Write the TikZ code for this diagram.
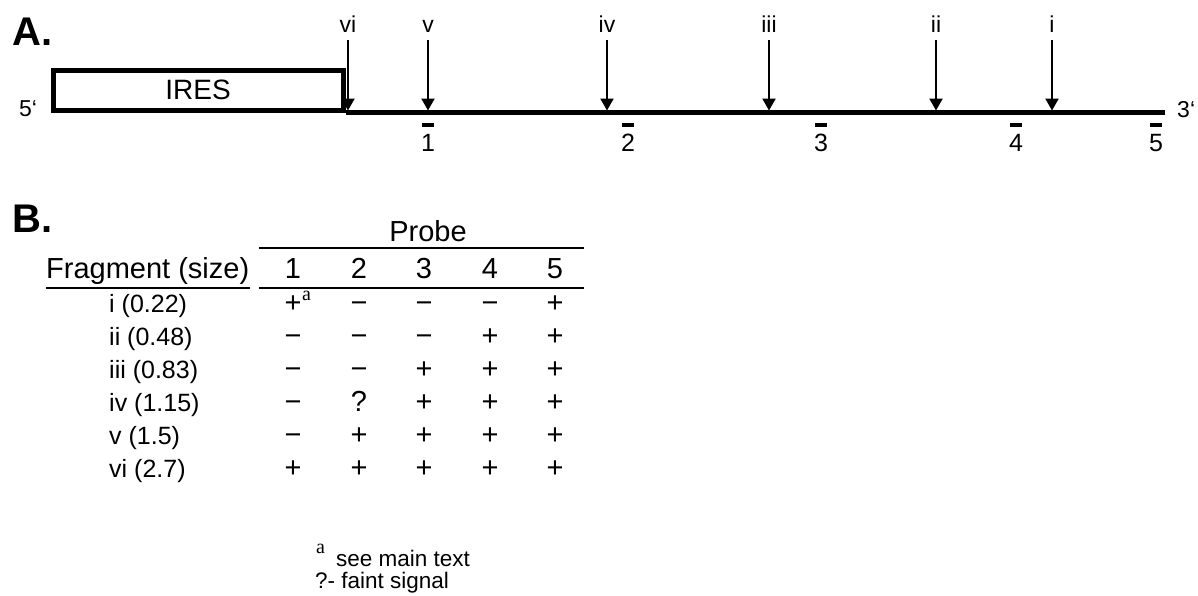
\documentclass[tikz,border=0pt]{standalone}
\usepackage{fontspec}
\setmainfont{Liberation Sans}
\newfontfamily\serifnote{Liberation Serif}
\usetikzlibrary{arrows.meta}
\tikzset{
  px/.style={x=1pt,y=-1pt},
  sz/.style={font=\fontsize{#1}{#1}\selectfont},
  panel/.style={inner sep=0pt, anchor=base west, font=\fontsize{40}{40}\selectfont\bfseries},
  endlab/.style={inner sep=0pt, anchor=base, sz=23},
  cutlab/.style={inner sep=0pt, anchor=base, sz=23},
  cutarrow/.style={line width=2.2pt, -{Triangle[width=13pt,length=12pt]}},
  probebar/.style={fill=black, minimum width=12pt, minimum height=4pt, inner sep=0pt},
  probenum/.style={inner sep=0pt, anchor=base, sz=25},
  rna/.style={line width=4.5pt},
  rule/.style={line width=2.5pt},
  head/.style={inner sep=0pt, anchor=base, sz=29},
  rowlab/.style={inner sep=0pt, anchor=base west, sz=25},
  cell/.style={inner sep=0pt, anchor=base, sz=29},
  sup/.style={inner sep=0pt, anchor=base west, font=\serifnote\fontsize{20}{20}\selectfont},
  note/.style={inner sep=0pt, anchor=base west, sz=22.5},
}
\begin{document}
\begin{tikzpicture}[px]
\useasboundingbox (0,0) rectangle (1198,595);

% ---------------- Panel A: map of the transcript ----------------
\node[panel] (A) at (12,45) {A.};
\node[draw, line width=5pt, minimum width=290pt, minimum height=40pt,
      inner sep=0pt, anchor=south west, sz=28] (ires) at (50.5,112.5) {IRES};
\node[endlab, anchor=base] (five) at (28,116) {5‘};
\coordinate (rnaend) at (1165,112.5);
\draw[rna] (ires.south east) -- (rnaend);
\node[endlab, anchor=base west] (three) at (1177,117) {3‘};

% cleavage sites
\foreach \lab/\x in {vi/348, v/428, iv/607, iii/769, ii/936, i/1052} {
  \node[cutlab] (lab-\lab) at (\x,32) {\lab};
  \coordinate (top-\lab) at (\x,40);
  \coordinate (tip-\lab) at (\x,110.5);
  \draw[cutarrow] (top-\lab) -- (tip-\lab);
}

% probe positions
\foreach \n/\x in {1/428, 2/628, 3/821, 4/1016, 5/1156} {
  \node[probebar] (bar-\n) at (\x,125) {};
  \node[probenum] (pnum-\n) at (\x,151) {\n};
}

% ---------------- Panel B: hybridisation table ----------------
\node[panel] (B) at (12,232) {B.};
\node[head] (probe) at (428,241) {Probe};
\coordinate (r1l) at (259,248);
\coordinate (r1r) at (584,248);
\draw[rule] (r1l) -- (r1r);

\node[head, anchor=base west] (frag) at (46,278) {Fragment (size)};
\foreach \n/\x in {1/293, 2/359, 3/424, 4/490, 5/555} {
  \node[head] (col-\n) at (\x,278) {\n};
}
\coordinate (ul) at (46,288);
\coordinate (ur) at (250,288);
\draw[rule] (ul) -- (ur);
\coordinate (r2l) at (259,288);
\coordinate (r2r) at (584,288);
\draw[rule] (r2l) -- (r2r);

\foreach \r/\lab/\ca/\cb/\cc/\cd/\ce in {
    1/i (0.22)/+/−/−/−/+,
    2/ii (0.48)/−/−/−/+/+,
    3/iii (0.83)/−/−/+/+/+,
    4/iv (1.15)/−/?/+/+/+,
    5/v (1.5)/−/+/+/+/+,
    6/vi (2.7)/+/+/+/+/+} {
  \pgfmathsetmacro\yb{279+33*\r}
  \node[rowlab] (frag-\r) at (109,\yb) {\lab};
  \node[cell] (cell-\r-1) at (293,\yb) {\ca};
  \node[cell] (cell-\r-2) at (359,\yb) {\cb};
  \node[cell] (cell-\r-3) at (424,\yb) {\cc};
  \node[cell] (cell-\r-4) at (490,\yb) {\cd};
  \node[cell] (cell-\r-5) at (555,\yb) {\ce};
}
\node[sup] (supa) at (302,300) {a};

% footnotes
\node[sup] (fna) at (316,553) {a};
\node[note] (fn1) at (336,566) {see main text};
\node[note] (fn2) at (315,588) {?- faint signal};
\end{tikzpicture}
\end{document}
